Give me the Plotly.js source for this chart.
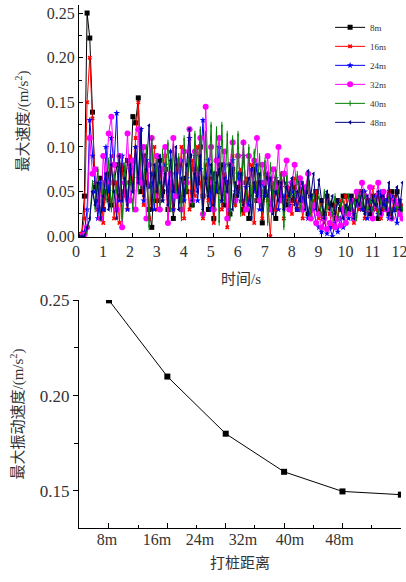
<!DOCTYPE html>
<html><head><meta charset="utf-8">
<script src="https://cdn.plot.ly/plotly-3.0.1.min.js"></script>
<style>html,body{margin:0;padding:0;background:#fff}#c{width:406px;height:582px}</style>
</head><body><div id="c"></div>
<script>
// ---- data ----
const seriesNames = ['8m','16m','24m','32m','40m','48m'];
const tStep = 0.1; // sampling interval (s)
const v8 = [0,0.002,0.045,0.25,0.222,0.139,0.055,0.04,0.065,0.03,
0.05,0.07,0.035,0.06,0.08,0.045,0.075,0.05,0.085,0.06,
0.134,0.127,0.155,0.05,0.09,0.06,0.03,0.01,0.07,0.04,
0.085,0.05,0.075,0.03,0.06,0.02,0.055,0.08,0.04,0.065,
0.05,0.09,0.035,0.075,0.06,0.1,0.045,0.065,0.03,0.055,
0.02,0.07,0.05,0.08,0.035,0.06,0.025,0.075,0.045,0.055,
0.07,0.03,0.06,0.02,0.05,0.075,0.04,0.06,0.015,0.05,
0.065,0.03,0.055,0.02,0.06,0.045,0.07,0.035,0.05,0.04,
0.055,0.03,0.06,0.04,0.05,0.025,0.045,0.035,0.05,0.026,
0.04,0.025,0.045,0.037,0.035,0.02,0.04,0.03,0.045,0.045,
0.03,0.045,0.02,0.04,0.035,0.05,0.03,0.04,0.025,0.045,
0.035,0.02,0.045,0.03,0.04,0.025,0.05,0.03,0.05,0.035,
0.03];
const v16 = [0,0.003,0.02,0.15,0.2,0.132,0.06,0.03,0.055,0.015,
0.07,0.04,0.09,0.02,0.06,0.015,0.08,0.045,0.03,0.09,
0.06,0.11,0.15,0.07,0.035,0.08,0.02,0.06,0.1,0.03,
0.075,0.045,0.09,0.015,0.06,0.03,0.08,0.05,0.1,0.02,
0.07,0.03,0.085,0.045,0.1,0.06,0.02,0.08,0.04,0.065,
0.015,0.055,0.08,0.03,0.07,0.01,0.06,0.09,0.035,0.05,
0.075,0.025,0.065,0.04,0.08,0.015,0.06,0.05,0.02,0.07,
0.04,0,0.06,0.03,0.05,0.07,0.02,0.045,0.055,0.025,
0.065,0.03,0.05,0.02,0.045,0.06,0.025,0.04,0.05,0.02,
0.035,0.015,0.04,0.025,0.01,0.035,0.02,0.04,0.03,0.045,
0.025,0.04,0.015,0.045,0.03,0.05,0.02,0.04,0.03,0.055,
0.03,0.045,0.02,0.04,0.035,0.05,0.025,0.045,0.03,0.04,
0.035];
const v24 = [0,0,0.005,0.03,0.13,0.09,0.05,0.02,0.06,0.03,
0.1,0.05,0.11,0.08,0.138,0.04,0.09,0.06,0.03,0.075,
0.05,0.1,0.065,0.12,0.04,0.085,0.055,0.07,0.03,0.09,
0.06,0.04,0.08,0.05,0.095,0.03,0.07,0.045,0.085,0.04,
0.065,0.11,0.05,0.09,0.04,0.075,0.13,0.06,0.085,0.03,
0.07,0.05,0.1,0.04,0.08,0.06,0.03,0.085,0.05,0.07,
0.04,0.09,0.055,0.035,0.075,0.05,0.08,0.03,0.06,0.045,
0.07,0.035,0.05,0.065,0.03,0.055,0.04,0.06,0.035,0.05,
0.045,0.03,0.06,0.04,0.05,0.02,0.045,0.03,0.015,0.01,
0.005,0.02,0.003,0.01,0,0.015,0.005,0.02,0.01,0.03,
0.02,0.04,0.025,0.035,0.045,0.03,0.05,0.02,0.04,0.03,
0.045,0.025,0.05,0.035,0.04,0.02,0.045,0.03,0.015,0.04,
0.03];
const v32 = [0,0,0.002,0.01,0.11,0.07,0.075,0.045,0.02,0.09,
0.06,0.115,0.134,0.08,0.03,0.09,0.01,0.06,0.115,0.04,
0.085,0.03,0.12,0.06,0.1,0.02,0.08,0.11,0.045,0.09,
0.03,0.075,0.1,0.015,0.07,0.11,0.045,0.085,0.03,0.095,
0.06,0.12,0.04,0.095,0.07,0.11,0.025,0.145,0.06,0.1,
0.03,0.085,0.11,0.05,0.095,0.02,0.08,0.105,0.04,0.09,
0.06,0.105,0.03,0.09,0.05,0.085,0.11,0.04,0.08,0.06,
0.09,0.03,0.075,0.055,0.1,0.04,0.07,0.085,0.03,0.06,
0.08,0.045,0.065,0.03,0.055,0.07,0.02,0.035,0.015,0.025,
0.01,0.02,0.008,0.015,0.025,0.01,0.02,0.012,0.03,0.015,
0.025,0.04,0.02,0.05,0.035,0.06,0.045,0.03,0.055,0.02,
0.04,0.06,0.025,0.05,0.03,0.045,0.02,0.04,0.035,0.025,
0.02];
const v40 = [0,0,0,0.005,0.02,0.06,0.03,0.075,0.02,0.06,
0.04,0.085,0.03,0.07,0.05,0.09,0.02,0.08,0.045,0.065,
0.03,0.09,0.05,0.095,0.06,0.1,0.01,0.11,0.04,0.085,
0.035,0.095,0.06,0.105,0.03,0.1,0.05,0.09,0.02,0.11,
0.05,0.1,0.035,0.115,0.06,0.12,0.025,0.115,0.05,0.125,
0.03,0.12,0.015,0.125,0.04,0.115,0.02,0.11,0.035,0.115,
0.025,0.105,0.04,0.1,0.02,0.095,0.045,0.09,0.03,0.085,
0.015,0.08,0.04,0.075,0.05,0.07,0.01,0.065,0.035,0.06,
0.045,0.07,0.03,0.055,0.04,0.065,0.025,0.05,0.035,0.045,
0.02,0.05,0.03,0.04,0.025,0.045,0.02,0.035,0.04,0.025,
0.045,0.03,0.04,0.02,0.05,0.035,0.045,0.025,0.04,0.03,
0.045,0.025,0.04,0.03,0.035,0.045,0.02,0.04,0.03,0.035,
0.03];
const v48 = [0,0,0,0.01,0.02,0.05,0.035,0.06,0.02,0.045,
0.07,0.03,0.08,0.05,0.02,0.09,0.04,0.065,0.035,0.08,
0.05,0.1,0.06,0.12,0.045,0.075,0.124,0.03,0.08,0.05,
0.09,0.04,0.07,0.035,0.085,0.05,0.1,0.03,0.065,0.045,
0.08,0.12,0.04,0.07,0.05,0.09,0.03,0.065,0.045,0.08,
0.035,0.06,0.075,0.04,0.065,0.05,0.08,0.03,0.06,0.045,
0.07,0.035,0.055,0.065,0.02,0.06,0.045,0.07,0.03,0.055,
0.045,0.065,0.025,0.05,0.04,0.06,0.03,0.055,0.045,0.065,
0.035,0.05,0.04,0.06,0.03,0.073,0.045,0.07,0.03,0.063,
0.04,0.02,0.05,0.03,0.045,0.025,0.04,0.03,0.02,0.035,
0.03,0.045,0.02,0.04,0.035,0.05,0.025,0.045,0.03,0.04,
0.035,0.05,0.025,0.045,0.03,0.06,0.02,0.04,0.055,0.03,
0.06];
const distances = [8,16,24,32,40,48];
const maxVel = [0.25,0.21,0.18,0.16,0.1497,0.148];
const distLabels = ['8m','16m','24m','32m','40m','48m'];
const distLabelPos = [7.73,14.58,20.47,26.36,32.8,39.6];

// ---- styles ----
const colors = ['#000000','#ff0000','#0000ff','#ff00ff','#008000','#000080'];
const symbols = ['square','x','star','circle','line-ns-open','triangle-left'];
const sizes = [5,4,5,6,4,4];
const allV = [v8,v16,v24,v32,v40,v48];
const SERIF = "Liberation Serif";
const TFONT = "Liberation Serif, Noto Sans CJK SC";
const TXT = '#333333';

const traces = allV.map((v,i)=>({
  type:'scatter', mode:'lines+markers', name:seriesNames[i],
  x: v.map((_,k)=>+(k*tStep).toFixed(2)), y: v,
  xaxis:'x', yaxis:'y',
  line:{color:colors[i], width:1},
  marker:{symbol:symbols[i], size:sizes[i], color:colors[i], line:{color:colors[i], width: symbols[i]==='line-ns-open'?1:0}}
}));
traces.push({
  type:'scatter', mode:'lines+markers', showlegend:false,
  x: distances, y: maxVel, xaxis:'x2', yaxis:'y2',
  line:{color:'#000', width:1}, marker:{symbol:'square', size:6, color:'#000'}
});
// label-carrier trace on overlay axis (invisible)
traces.push({type:'scatter', mode:'markers', showlegend:false, hoverinfo:'skip',
  x:[distLabelPos[0]], y:[0.2], xaxis:'x3', yaxis:'y2', marker:{opacity:0}});

const tf = (s)=>({family:SERIF, size:s, color:TXT});
const ttl = (s)=>({family:TFONT, size:s, color:TXT});
const layout = {
  width:406, height:582, margin:{l:79,r:3,t:5,b:54},
  paper_bgcolor:'#fff', plot_bgcolor:'#fff',
  font:{family:TFONT, color:TXT, size:15},
  showlegend:true,
  legend:{x:0.775, y:0.985, xanchor:'left', yanchor:'top', bgcolor:'rgba(0,0,0,0)',
    font:tf(9), itemwidth:30, tracegroupgap:0},
  xaxis:{domain:[0,1], anchor:'y', range:[0,12.02], tickmode:'array', tickvals:[0,1,2,3,4,5,6,7,8,9,10,11,12],
    ticks:'inside', ticklen:4, tickcolor:'#000', showline:true, linecolor:'#000', linewidth:1, showgrid:false, zeroline:false,
    ticklabeloverflow:'allow', ticklabelshift:-3, tickfont:tf(16), title:{text:'时间/s', font:ttl(15), standoff:14}},
  yaxis:{domain:[0.5564,1], anchor:'x', range:[-0.0008,0.259], tickmode:'array', tickvals:[0,0.05,0.1,0.15,0.2,0.25],
    tickformat:'.2f', ticks:'inside', ticklen:4, tickcolor:'#000', showline:true, linecolor:'#000', linewidth:1, showgrid:false, zeroline:false,
    minor:{tickmode:'array', tickvals:[0.025,0.075,0.125,0.175,0.225], ticks:'inside', ticklen:3, tickcolor:'#000', showgrid:false},
    tickfont:tf(16), title:{text:'最大速度/(m/s<sup>2</sup>)', font:ttl(15), standoff:14}},
  xaxis2:{domain:[0,0.9938], anchor:'y2', range:[3.89,48.02], tickmode:'array', tickvals:distances,
    showticklabels:false, ticks:'inside', ticklen:5, tickcolor:'#000', showline:true, linecolor:'#000', linewidth:1, showgrid:false, zeroline:false,
    minor:{tickmode:'array', tickvals:[12,20,28,36,44], ticks:'inside', ticklen:3, tickcolor:'#000', showgrid:false}},
  xaxis3:{domain:[0,0.9938], anchor:'y2', overlaying:'x2', range:[3.89,48.02], tickmode:'array', tickvals:distLabelPos, ticktext:distLabels,
    ticks:'', showline:false, showgrid:false, zeroline:false, tickfont:tf(16),
    title:{text:'打桩距离', font:ttl(15), standoff:10}},
  yaxis2:{domain:[0,0.436], anchor:'x2', range:[0.1305,0.2502], tickmode:'array', tickvals:[0.15,0.2,0.25], tickformat:'.2f',
    ticks:'outside', ticklen:5, tickcolor:'#000', showline:true, linecolor:'#000', linewidth:1, showgrid:false, zeroline:false,
    minor:{tickmode:'array', tickvals:[0.175,0.225], ticks:'outside', ticklen:4, tickcolor:'#000', showgrid:false},
    tickfont:tf(17), title:{text:'最大振动速度/(m/s<sup>2</sup>)', font:ttl(15), standoff:12}}
};
Plotly.newPlot('c', traces, layout, {displayModeBar:false, staticPlot:true});
</script></body></html>
